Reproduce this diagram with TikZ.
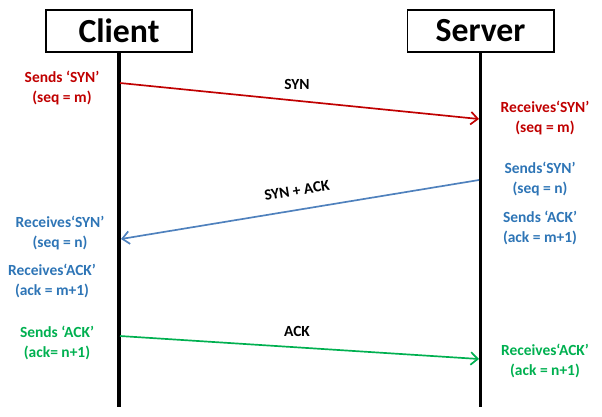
\documentclass[tikz,border=0pt]{standalone}
\usepackage{fontspec}
\setmainfont{Carlito}
\usetikzlibrary{arrows.meta}
\definecolor{syn red}{HTML}{C00000}
\definecolor{ack blue}{HTML}{2E75B6}
\definecolor{line blue}{HTML}{4F81BD}
\definecolor{ack green}{HTML}{00B050}
\tikzset{host/.style={draw=black, line width=1.4pt, minimum width=3.65cm, minimum height=1.05cm,
    font=\fontsize{24}{28}\selectfont\bfseries},
  lifeline/.style={draw=black, line width=2.8pt},
  message/.style={line width=1.2pt, -{Straight Barb[length=5pt,width=9pt,line width=1.2pt]}},
  note/.style={font=\fontsize{11}{14}\selectfont\bfseries, align=center},
  msglabel/.style={font=\fontsize{11}{14}\selectfont\bfseries, text=black}}

\begin{document}
\begin{tikzpicture}[x=0.025cm, y=-0.025cm]

\useasboundingbox (0,0) rectangle (602,416);

\node[host] (client) at (119,31) {Client};
\node[host] (server) at (480.5,31) {Server};
\coordinate (clientend) at (client.south |- 0,407);
\coordinate (serverend) at (server.south |- 0,407);
\draw[lifeline] (client.south) -- (clientend);
\draw[lifeline] (server.south) -- (serverend);

% SYN
\coordinate (c1) at (120,83);
\coordinate (s1) at (479,119);
\draw[message, syn red] (c1) -- (s1);
\node[msglabel] (synlabel) at (297,84) {SYN};
\node[note, text=syn red] (clientsyn) at (62,88) {Sends ‘SYN’\\(seq = m)};
\node[note, text=syn red] (serversyn) at (545,118) {Receives‘SYN’\\(seq = m)};

% SYN + ACK
\coordinate (s2) at (479,180);
\coordinate (c2) at (121,239);
\draw[message, line blue] (s2) -- (c2) node[msglabel, midway, above=6pt, sloped] (synacklabel) {SYN + ACK};
\node[note, text=ack blue] (serversynack) at (540,179) {Sends‘SYN’\\(seq = n)};
\node[note, text=ack blue] (serverack) at (540,228) {Sends ‘ACK’\\(ack = m+1)};
\node[note, text=ack blue] (clientsynack) at (60,233) {Receives‘SYN’\\(seq = n)};
\node[note, text=ack blue] (clientack) at (52,281) {Receives‘ACK’\\(ack = m+1)};

% ACK
\coordinate (c3) at (120,336);
\coordinate (s3) at (479,359);
\draw[message, ack green] (c3) -- (s3);
\node[msglabel] (acklabel) at (297,331) {ACK};
\node[note, text=ack green] (clientlast) at (57,343) {Sends ‘ACK’\\(ack= n+1)};
\node[note, text=ack green] (serverlast) at (545,361) {Receives‘ACK’\\(ack = n+1)};

\end{tikzpicture}
\end{document}
